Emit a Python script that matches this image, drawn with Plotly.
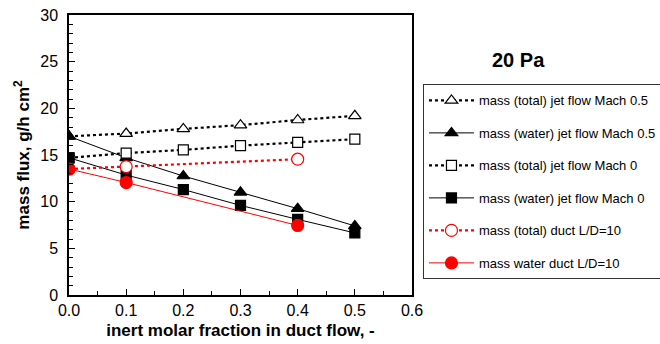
import plotly.graph_objects as go

x_jet = [0.0, 0.1, 0.2, 0.3, 0.4, 0.5]
x_duct = [0.0, 0.1, 0.4]
total_m05 = [17.0, 17.3, 17.8, 18.2, 18.75, 19.2]
water_m05 = [17.0, 14.7, 12.75, 11.0, 9.25, 7.4]
total_m0 = [14.7, 15.2, 15.55, 16.0, 16.35, 16.7]
water_m0 = [14.7, 12.85, 11.3, 9.6, 8.1, 6.65]
total_duct = [13.5, 13.75, 14.55]
water_duct = [13.5, 12.05, 7.45]

names = ["mass (total) jet flow Mach 0.5", "mass (water) jet flow Mach 0.5",
         "mass (total) jet flow Mach 0", "mass (water) jet flow Mach 0",
         "mass (total) duct L/D=10", "mass water duct L/D=10"]

FONT = "Liberation Sans, Arial, sans-serif"
fig = go.Figure()

def add(x, y, name, color, dash, width, symbol, size, fill, g):
    fig.add_trace(go.Scatter(
        x=x, y=y, name=name, mode="lines+markers", legendgroup=g,
        line=dict(color=color, dash=dash, width=width),
        marker=dict(symbol=symbol, size=size, color=fill,
                    line=dict(color=color, width=1.2))))

add(x_jet, total_m05, names[0], "black", "dot", 2.2, "triangle-up", 11, "white", "a")
add(x_jet, water_m05, names[1], "black", "solid", 1, "triangle-up", 11, "black", "b")
add(x_jet, total_m0, names[2], "black", "dot", 2.2, "square", 10, "white", "c")
add(x_jet, water_m0, names[3], "black", "solid", 1, "square", 10, "black", "d")
add(x_duct, total_duct, names[4], "red", "dot", 2.2, "circle", 12, "white", "e")
add(x_duct, water_duct, names[5], "red", "solid", 1, "circle", 12, "red", "f")

axis_common = dict(showline=True, linecolor="black", linewidth=1.5, mirror=True,
                   ticks="inside", ticklen=6, tickcolor="black", showgrid=False,
                   zeroline=False, tickfont=dict(family=FONT, size=16, color="black"))

fig.update_layout(
    width=660, height=344,
    margin=dict(l=69, r=248, t=15, b=49, autoexpand=False),
    paper_bgcolor="white", plot_bgcolor="white",
    font=dict(family=FONT, color="black"),
    showlegend=True,
    legend=dict(x=1.032, y=0.752, xanchor="left", yanchor="top",
                bordercolor="#333333", borderwidth=1, bgcolor="white",
                font=dict(family=FONT, size=13, color="black"),
                itemwidth=45, tracegroupgap=12.6),
    xaxis=dict(range=[0, 0.6], dtick=0.1, tickformat=".1f",
               minor=dict(dtick=0.05, ticks="inside", ticklen=4, tickcolor="black"),
               title=dict(text="<b>inert molar fraction in duct flow, -</b>",
                          font=dict(family=FONT, size=17), standoff=6),
               **axis_common),
    yaxis=dict(range=[0, 30], dtick=5,
               minor=dict(dtick=1, ticks="inside", ticklen=4, tickcolor="black"),
               title=dict(text="<b>mass flux, g/h cm<sup>2</sup></b>",
                          font=dict(family=FONT, size=17), standoff=6),
               ticklabelstandoff=6,
               **axis_common),
    annotations=[dict(text="<b>20 Pa</b>", x=1.395, y=0.886, xref="paper", yref="paper",
                      showarrow=False, font=dict(family=FONT, size=20, color="black"))],
)

fig.write_html("out.html")
